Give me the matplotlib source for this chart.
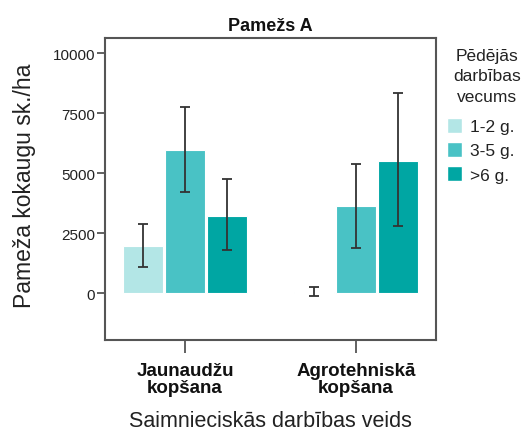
import matplotlib
matplotlib.use("Agg")
import matplotlib.pyplot as plt
import numpy as np
from matplotlib.patches import Patch

plt.rcParams['font.family'] = ['Liberation Sans', 'DejaVu Sans']

categories = ["Jaunaudžu\nkopšana", "Agrotehniskā\nkopšana"]
series_names = ["1-2 g.", "3-5 g.", ">6 g."]
legend_title = "Pēdējās\ndarbības\nvecums"
values = {
    "1-2 g.": [1960, 30],
    "3-5 g.": [5960, 3610],
    ">6 g.": [3220, 5500],
}
err_low = {
    "1-2 g.": [1100, -110],
    "3-5 g.": [4220, 1890],
    ">6 g.": [1790, 2800],
}
err_high = {
    "1-2 g.": [2860, 240],
    "3-5 g.": [7740, 5390],
    ">6 g.": [4740, 8320],
}
colors = ["#b3e6e6", "#49c2c5", "#00a6a3"]
yticks = [0, 2500, 5000, 7500, 10000]

fig = plt.figure(figsize=(5.23, 4.35), dpi=100)
ax = fig.add_axes([105/523, 1-341/435, (436-105)/523, (341-39)/435])

x = np.arange(len(categories))
w = 0.234
step = 0.246
for i, name in enumerate(series_names):
    pos = x + (i - 1) * step
    v = np.array(values[name])
    lo = np.array(err_low[name])
    hi = np.array(err_high[name])
    ax.bar(pos, v, width=w, color=colors[i], edgecolor="white", linewidth=0.8, zorder=2)
    ax.errorbar(pos, v, yerr=[v - lo, hi - v], fmt="none", ecolor="#333333",
                elinewidth=1.3, capsize=3.5, capthick=1.3, zorder=3)

ax.set_xlim(-0.468, 1.468)
ax.set_ylim(-1958, 10625)
ax.set_yticks(yticks)
ax.set_yticklabels([str(t) for t in yticks], fontsize=11, color="#222222")
ax.set_xticks(x)
ax.set_xticklabels(categories, fontsize=13.5, fontweight="bold", color="#111111", linespacing=1.0)
for s in ax.spines.values():
    s.set_color("#555555")
    s.set_linewidth(1.5)
ax.tick_params(axis="y", direction="out", length=6, width=1.3, color="#555555", pad=1)
ax.tick_params(axis="x", direction="out", length=9, width=1.3, color="#555555", pad=7)

ax.set_title("Pamežs A", fontsize=13, fontweight="bold", pad=6, color="#111111")
ax.set_ylabel("Pameža kokaugu sk./ha", fontsize=16.5, color="#222222")
ax.yaxis.set_label_coords(-0.207, 0.515)
ax.set_xlabel("Saimnieciskās darbības veids", fontsize=15.5, color="#222222", labelpad=10)

fig.text(487/523, 1-49/435, legend_title, ha="center", va="top", fontsize=12.5,
         color="#222222", linespacing=1.45, multialignment="center")

handles = [Patch(facecolor=c, edgecolor="white") for c in colors]
leg = fig.legend(handles, series_names,
                 loc="upper left", bbox_to_anchor=(445/523, 1-117/435),
                 frameon=False, fontsize=12.5,
                 handlelength=0.9, handleheight=0.95, handletextpad=0.45,
                 labelspacing=0.45, borderaxespad=0, borderpad=0.1)
for t in leg.get_texts():
    t.set_color("#222222")

fig.savefig("out.png", dpi=100)
